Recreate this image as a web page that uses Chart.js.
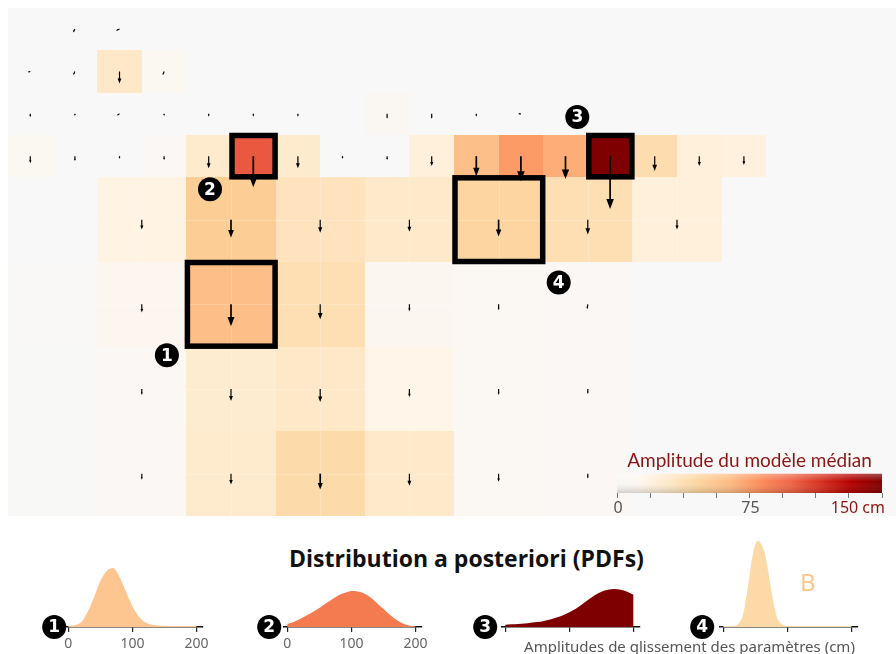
<!DOCTYPE html>
<html>
<head>
<meta charset="utf-8">
<script src="https://cdn.jsdelivr.net/npm/chart.js@4.4.1/dist/chart.umd.min.js"></script>
<style>
    body { margin: 0; width: 896px; height: 654px; overflow: hidden; background: #fff; position: relative; font-family: 'Noto Sans', sans-serif; }
    .abs { position: absolute; }
    #mapWrap { left: 8px; top: 8px; width: 888px; height: 508px; overflow: hidden; }
    #pdfTitle { left: 0; width: 933px; top: 545px; line-height: 26px; text-align: center; font-family: 'Open Sans', 'Noto Sans', sans-serif; font-weight: 700; font-size: 23px; color: #111; }
    #xLabel { left: 489px; width: 401px; top: 637px; line-height: 18px; text-align: center; font-size: 15px; color: #555; }
    #bNote { left: 800px; top: 568px; line-height: 28px; font-size: 24px; color: #fdc690; }
</style>
</head>
<body>
<div id="mapWrap" class="abs"><canvas id="map" width="892" height="508" style="width:892px;height:508px"></canvas></div>
<canvas id="cbar" class="abs" width="296" height="72" style="left:600px;top:446px;width:296px;height:72px"></canvas>
<div id="pdfTitle" class="abs">Distribution a posteriori (PDFs)</div>
<canvas id="pdf1" class="abs" width="200" height="120" style="left:35px;top:534px;width:200px;height:120px"></canvas>
<canvas id="pdf2" class="abs" width="200" height="120" style="left:254px;top:534px;width:200px;height:120px"></canvas>
<canvas id="pdf3" class="abs" width="200" height="120" style="left:472px;top:534px;width:200px;height:120px"></canvas>
<canvas id="pdf4" class="abs" width="200" height="120" style="left:690px;top:534px;width:200px;height:120px"></canvas>
<div id="bNote" class="abs">B</div>
<div id="xLabel" class="abs">Amplitudes de glissement des paramètres (cm)</div>
<script>
// --- median model, fine patches (4 rows x 20 cols), amplitude in cm
const fineAmp = [
    [0, 0, 0, 0, 0, 0, 0, 0, 0, 0, 0, 0, 0, 0, 0, 0, 0, 0, 0, 0],
    [0, 0, 30, 9, 0, 0, 0, 0, 0, 0, 0, 0, 0, 0, 0, 0, 0, 0, 0, 0],
    [0, 0, 0, 0, 0, 0, 0, 0, 6, 0, 0, 0, 0, 0, 0, 0, 0, 0, 0, 0],
    [9, 0, 0, 5, 27, 102, 27, 0, 0, 21, 61, 76, 69, 150, 40, 21, 20, 0, 0, 0]
];
const fineSlip = [
    [0, 11, 11, 0, 0, 0, 0, 0, 0, 0, 0, 0, 0, 0, 0, 0, 0, 0, 0, 0],
    [8, 11, 34, 11, 0, 0, 0, 0, 0, 0, 0, 0, 0, 0, 0, 0, 0, 0, 0, 0],
    [10, 6, 9, 6, 8, 8, 8, 0, 14, 14, 8, 8, 0, 0, 0, 0, 0, 0, 0, 0],
    [20, 14, 8, 11, 34, 88, 34, 8, 11, 28, 57, 71, 65, 150, 42, 28, 25, 0, 0, 0]
];
const fineRake = [
    [270, 240, 200, 270, 270, 270, 270, 270, 270, 270, 270, 270, 270, 270, 270, 270, 270, 270, 270, 270],
    [190, 245, 270, 250, 270, 270, 270, 270, 270, 270, 270, 270, 270, 270, 270, 270, 270, 270, 270, 270],
    [270, 270, 210, 270, 270, 270, 270, 270, 270, 270, 270, 180, 270, 270, 270, 270, 270, 270, 270, 270],
    [270, 270, 270, 270, 270, 270, 270, 270, 270, 270, 270, 270, 270, 270, 270, 270, 270, 270, 270, 270]
];

// --- coarse patches (4 rows x 10 cols) below the fine ones
const coarseAmp = [
    [0, 17, 52, 34, 29, 46, 38, 21, 0, 0],
    [2, 12, 62, 38, 11, 8, 5, 0, 0, 0],
    [1, 5, 26, 30, 15, 7, 5, 0, 0, 0],
    [1, 5, 27, 42, 29, 7, 5, 0, 0, 0]
];
const coarseSlip = [
    [0, 28, 51, 37, 34, 48, 42, 28, 0, 0],
    [0, 23, 62, 42, 20, 17, 14, 0, 0, 0],
    [0, 17, 34, 37, 23, 17, 14, 0, 0, 0],
    [0, 17, 31, 45, 34, 23, 14, 0, 0, 0]
];
const coarseRake = [
    [270, 270, 270, 270, 270, 270, 270, 270, 270, 270],
    [270, 270, 270, 270, 270, 270, 262, 270, 270, 270],
    [270, 270, 270, 270, 270, 270, 270, 270, 270, 270],
    [270, 270, 270, 270, 270, 270, 270, 270, 270, 270]
];

// selected patches with their PDFs
const selectedLabels = ['1', '2', '3', '4'];
const selectedLevel = ['coarse', 'fine', 'fine', 'coarse'];
const selectedRow = [1, 3, 3, 0];
const selectedCol = [2, 5, 13, 5];

// colorbar
const cbarMinorTicks = [0, 18.75, 37.5, 56.25, 75, 93.75, 112.5, 131.25, 150];
const cbarTickValues = [0, 75, 150];
const cbarTickLabels = ['0', '75', '150 cm'];

// posterior PDFs
const pdfTicks = [0, 100, 200];
const pdfX = [0, 10, 20, 30, 40, 50, 60, 70, 80, 90, 100, 110, 120, 130, 140, 150, 160, 170, 180, 190, 200];
const pdf1Y = [1.2, 1.8, 4.7, 14.8, 29.5, 46, 56, 59, 50, 35.4, 20.7, 10.6, 4.7, 2.4, 1.5, 1.2, 0.9, 0.9, 0.9, 0.9, 0.9];
const pdf2Y = [2.9, 5, 7.9, 11.5, 15.1, 19.1, 23.4, 27.7, 31.7, 34.2, 36, 35.6, 33.5, 29.5, 23.8, 18, 12.2, 7.2, 3.6, 1.4, 0.7];
const pdf3Y = [2.3, 2.7, 3, 3.4, 4.2, 4.9, 6.1, 7.6, 9.5, 11.8, 14.8, 18.2, 22.8, 27.4, 31.9, 35.3, 37.2, 38, 37.2, 35.3, 32.3];
const pdf4X = [0, 10, 20, 25, 30, 35, 40, 45, 50, 55, 60, 65, 70, 75, 80, 85, 90, 95, 100, 120, 140, 160, 180, 200];
const pdf4Y = [0.9, 0.9, 1.7, 4.3, 10.3, 25.8, 47.3, 68.8, 82.6, 86, 81.7, 73.1, 55.9, 36.1, 18.9, 7.7, 3.4, 1.7, 0.9, 0.9, 0.9, 0.9, 0.9, 0.9];

const BG = '#f8f8f8';
const ARROW_PX_PER_CM = 0.353;
const CMAP = [
    [0, '#f8f8f8'], [13, '#fdf6ee'], [13.01, '#fff7ec'], [30, '#fee8c8'], [47, '#fdd49e'],
    [64, '#fdbb84'], [81, '#fc8d59'], [98.25, '#ef6548'], [115.5, '#d7301f'], [132.75, '#b30000'], [150, '#7f0000']
];
const MARKER_OFFSET = {
    '1': { corner: 'bl', dx: -19.5, dy: 8.5 },
    '2': { corner: 'bl', dx: -21, dy: 12 },
    '3': { corner: 'tl', dx: -10.5, dy: -18 },
    '4': { corner: 'br', dx: 15.5, dy: 20.5 }
};

Chart.defaults.font.family = "'Noto Sans', sans-serif";
Chart.defaults.animation = false;

function hexRgb (h) {
    return [1, 3, 5].map(i => parseInt(h.slice(i, i + 2), 16));
}

function ampColor (v) {
    if (v <= CMAP[0][0]) return CMAP[0][1];
    for (let i = 1; i < CMAP.length; i++) {
        if (v <= CMAP[i][0]) {
            const [v0, c0] = CMAP[i - 1];
            const [v1, c1] = CMAP[i];
            const t = (v - v0) / (v1 - v0);
            const a = hexRgb(c0), b = hexRgb(c1);
            return `rgb(${a.map((x, k) => Math.round(x + (b[k] - x) * t)).join(',')})`;
        }
    }
    return CMAP[CMAP.length - 1][1];
}

function drawMarker (ctx, x, y, label, r = 12) {
    ctx.save();
    ctx.fillStyle = '#000';
    ctx.beginPath();
    ctx.arc(x, y, r, 0, Math.PI * 2);
    ctx.fill();
    ctx.fillStyle = '#fff';
    ctx.font = "bold 17px 'DejaVu Sans', sans-serif";
    ctx.textAlign = 'center';
    ctx.textBaseline = 'middle';
    ctx.fillText(label, x, y + 1);
    ctx.restore();
}

function drawArrow (ctx, x0, y0, len, dirDeg) {
    if (len <= 0) return;
    const a = dirDeg * Math.PI / 180;
    const ux = Math.cos(a), uy = -Math.sin(a);
    const x1 = x0 + ux * len, y1 = y0 + uy * len;
    const hl = Math.min(10, Math.max(2, len * 0.42));
    const hw = hl * 0.38;
    ctx.lineWidth = len > 15 ? 1.7 : 1.2;
    ctx.beginPath();
    ctx.moveTo(x0, y0);
    ctx.lineTo(x1 - ux * hl * 0.7, y1 - uy * hl * 0.7);
    ctx.stroke();
    ctx.beginPath();
    ctx.moveTo(x1, y1);
    ctx.lineTo(x1 - ux * hl - uy * hw, y1 - uy * hl + ux * hw);
    ctx.lineTo(x1 - ux * hl + uy * hw, y1 - uy * hl - ux * hw);
    ctx.closePath();
    ctx.fill();
}

// patches as points (grid units, centre of each patch)
const patches = [];
fineAmp.forEach((row, r) => row.forEach((v, c) => {
    patches.push({ x: c + 0.5, y: r + 0.5, span: 1, amp: v, slip: fineSlip[r][c], rake: fineRake[r][c] });
}));
coarseAmp.forEach((row, r) => row.forEach((v, c) => {
    patches.push({ x: 2 * c + 1, y: 4 + 2 * r + 1, span: 2, amp: v, slip: coarseSlip[r][c], rake: coarseRake[r][c] });
}));

function patchBox (level, row, col) {
    if (level === 'fine') return { x0: col, y0: row, x1: col + 1, y1: row + 1 };
    return { x0: 2 * col, y0: 4 + 2 * row, x1: 2 * col + 2, y1: 6 + 2 * row };
}

const mapPlugin = {
    id: 'faultMap',
    beforeDatasetsDraw (chart) {
        const { ctx, scales: { x, y } } = chart;
        ctx.save();
        ctx.fillStyle = BG;
        ctx.fillRect(x.left, y.top, x.width, y.height);
        chart.data.datasets[0].data.forEach(p => {
            if (p.amp <= 0) return;
            const h = p.span / 2;
            const px0 = Math.round(x.getPixelForValue(p.x - h));
            const px1 = Math.round(x.getPixelForValue(p.x + h));
            const py0 = Math.round(y.getPixelForValue(p.y - h));
            const py1 = Math.round(y.getPixelForValue(p.y + h));
            ctx.fillStyle = ampColor(p.amp);
            ctx.fillRect(px0, py0, px1 - px0, py1 - py0);
            if (p.span > 1) {
                // faint seams between the sub-patches of a coarse patch
                const mx = Math.round(x.getPixelForValue(p.x));
                const my = Math.round(y.getPixelForValue(p.y));
                ctx.fillStyle = 'rgba(255,255,255,0.22)';
                ctx.fillRect(mx, py0, 1, py1 - py0);
                ctx.fillRect(px0, my, px1 - px0, 1);
            }
        });
        ctx.restore();
    },
    afterDatasetsDraw (chart) {
        const { ctx, scales: { x, y } } = chart;
        ctx.save();
        // highlighted patches
        ctx.strokeStyle = '#000';
        ctx.lineWidth = 5.5;
        selectedLabels.forEach((lab, i) => {
            const b = patchBox(selectedLevel[i], selectedRow[i], selectedCol[i]);
            const px0 = x.getPixelForValue(b.x0) + 1, px1 = x.getPixelForValue(b.x1) - 0.5;
            const py0 = y.getPixelForValue(b.y0) + 0.5, py1 = y.getPixelForValue(b.y1) - 0.5;
            ctx.strokeRect(px0, py0, px1 - px0, py1 - py0);
        });
        // slip vectors
        ctx.fillStyle = '#000';
        ctx.strokeStyle = '#000';
        chart.data.datasets[0].data.forEach(p => {
            drawArrow(ctx, x.getPixelForValue(p.x), y.getPixelForValue(p.y), p.slip * ARROW_PX_PER_CM, p.rake);
        });
        // numbered markers
        selectedLabels.forEach((lab, i) => {
            const b = patchBox(selectedLevel[i], selectedRow[i], selectedCol[i]);
            const o = MARKER_OFFSET[lab];
            const cx = o.corner[1] === 'l' ? x.getPixelForValue(b.x0) : x.getPixelForValue(b.x1);
            const cy = o.corner[0] === 't' ? y.getPixelForValue(b.y0) : y.getPixelForValue(b.y1);
            drawMarker(ctx, cx + o.dx, cy + o.dy, lab);
        });
        ctx.restore();
    }
};

new Chart(document.getElementById('map'), {
    type: 'scatter',
    data: { datasets: [{ data: patches, pointRadius: 0, pointHoverRadius: 0 }] },
    options: {
        responsive: false,
        devicePixelRatio: 1,
        layout: { padding: 0 },
        plugins: { legend: { display: false }, tooltip: { enabled: false } },
        scales: {
            x: { type: 'linear', min: 0, max: 20, display: false },
            y: { type: 'linear', min: 0, max: 12, reverse: true, display: false }
        }
    },
    plugins: [mapPlugin]
});

// --- colorbar
const cbarPlugin = {
    id: 'cbarFill',
    beforeDatasetsDraw (chart) {
        const { ctx, chartArea: a, scales: { x } } = chart;
        const g = ctx.createLinearGradient(x.getPixelForValue(0), 0, x.getPixelForValue(150), 0);
        CMAP.forEach(([v, c]) => g.addColorStop(v / 150, c));
        ctx.save();
        ctx.fillStyle = g;
        ctx.fillRect(a.left, a.top, a.width, a.height);
        const s = ctx.createLinearGradient(0, a.top, 0, a.bottom);
        s.addColorStop(0, 'rgba(255,255,255,0.3)');
        s.addColorStop(0.4, 'rgba(255,255,255,0)');
        s.addColorStop(1, 'rgba(0,0,0,0.17)');
        ctx.fillStyle = s;
        ctx.fillRect(a.left, a.top, a.width, a.height);
        ctx.restore();
    },
    afterDraw (chart) {
        const { ctx, chartArea: a, scales: { x } } = chart;
        ctx.save();
        ctx.font = "16px 'Noto Sans', sans-serif";
        ctx.textBaseline = 'middle';
        cbarTickValues.forEach((v, i) => {
            const last = i === cbarTickValues.length - 1;
            ctx.fillStyle = last ? '#8b1414' : '#555';
            ctx.textAlign = last ? 'right' : 'center';
            ctx.fillText(cbarTickLabels[i], x.getPixelForValue(v) + (last ? 3 : 1), a.bottom + 15);
        });
        ctx.restore();
    }
};

new Chart(document.getElementById('cbar'), {
    type: 'scatter',
    data: { datasets: [{ data: [], pointRadius: 0 }] },
    options: {
        responsive: false,
        devicePixelRatio: 1,
        layout: { padding: { left: 17, right: 14, top: 3, bottom: 0 } },
        plugins: {
            legend: { display: false },
            tooltip: { enabled: false },
            title: {
                display: true,
                text: 'Amplitude du modèle médian',
                color: '#8b1414',
                font: { family: "Lato, 'Noto Sans', sans-serif", size: 19, weight: 'normal' },
                padding: { top: 0, bottom: 2 }
            }
        },
        scales: {
            x: {
                type: 'linear', min: 0, max: 150,
                afterBuildTicks: s => { s.ticks = cbarMinorTicks.map(v => ({ value: v })); },
                afterFit: s => { s.height = 25; },
                grid: { drawOnChartArea: false, drawTicks: true, tickLength: 5, color: '#777' },
                border: { display: false },
                ticks: { color: 'rgba(0,0,0,0)', autoSkip: false, maxRotation: 0, font: { size: 1 } }
            },
            y: { display: false, min: 0, max: 1 }
        }
    },
    plugins: [cbarPlugin]
});

// --- PDFs
function pdfChart (id, xs, ys, color, label, markerDx, showLabels) {
    const markerPlugin = {
        id: 'pdfMarker',
        afterDraw (chart) {
            const { scales: { x, y } } = chart;
            drawMarker(chart.ctx, x.getPixelForValue(0) + markerDx, y.getPixelForValue(0), label);
        }
    };
    return new Chart(document.getElementById(id), {
        type: 'line',
        data: {
            datasets: [{
                data: xs.map((v, i) => ({ x: v, y: ys[i] })),
                fill: 'origin',
                backgroundColor: color,
                borderColor: color,
                borderWidth: 0,
                pointRadius: 0,
                cubicInterpolationMode: 'monotone'
            }]
        },
        options: {
            responsive: false,
            devicePixelRatio: 1,
            layout: { padding: { left: 30, right: 32, top: 3, bottom: 3 } },
            plugins: { legend: { display: false }, tooltip: { enabled: false } },
            scales: {
                x: {
                    type: 'linear', min: -5, max: 210,
                    afterBuildTicks: s => { s.ticks = pdfTicks.map(v => ({ value: v })); },
                    afterFit: s => { s.height = 24; },
                    grid: { drawOnChartArea: false, drawTicks: true, tickLength: 5, color: '#222', lineWidth: 1.2 },
                    border: { display: true, color: '#111', width: 1.5 },
                    ticks: {
                        color: showLabels ? '#666' : 'rgba(0,0,0,0)',
                        font: { size: 14 },
                        padding: 4,
                        autoSkip: false,
                        maxRotation: 0
                    }
                },
                y: { display: false, min: 0, max: 90 }
            }
        },
        plugins: [markerPlugin]
    });
}

pdfChart('pdf1', pdfX, pdf1Y, '#fdc690', '1', -14, true);
pdfChart('pdf2', pdfX, pdf2Y, '#f47a50', '2', -18, true);
pdfChart('pdf3', pdfX, pdf3Y, '#7f0000', '3', -20, false);
pdfChart('pdf4', pdf4X, pdf4Y, '#fdd9a8', '4', -21, false);
</script>
</body>
</html>
